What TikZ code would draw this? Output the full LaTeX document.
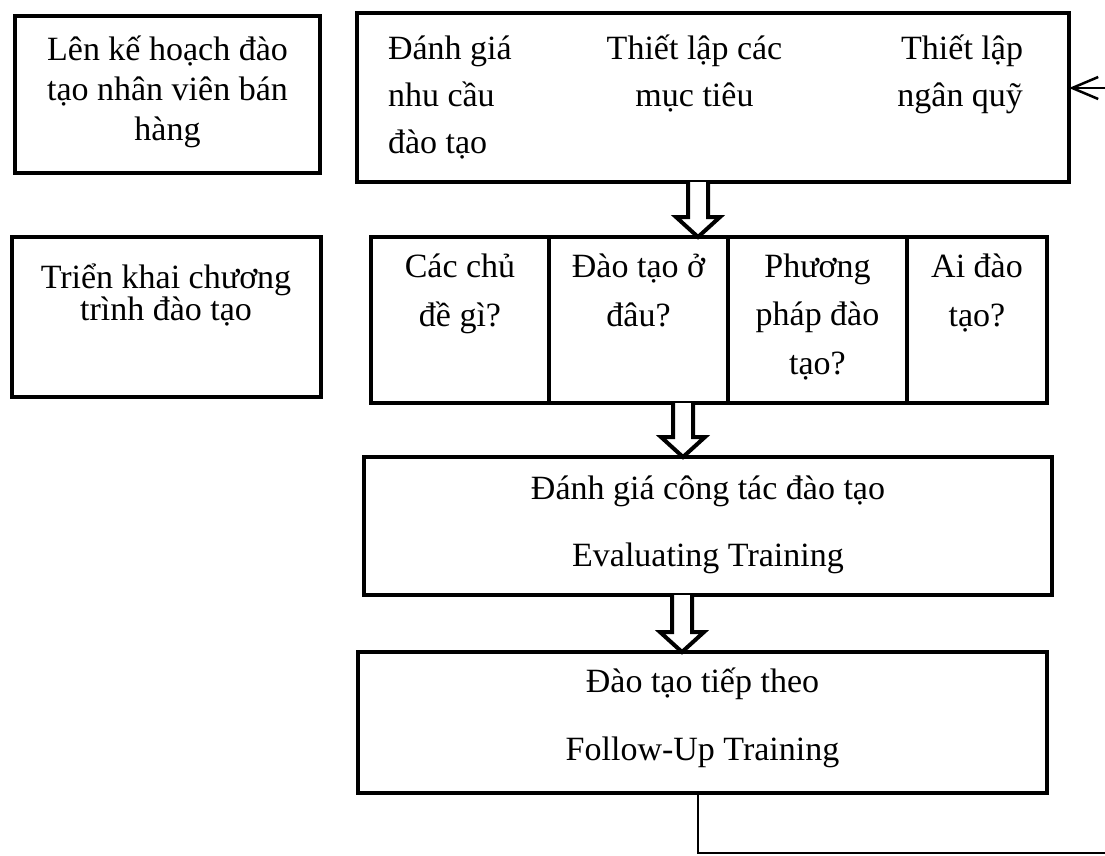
\documentclass[tikz,border=0pt]{standalone}
\usepackage{fontspec}
\setmainfont{Liberation Serif}
\usetikzlibrary{arrows.meta,calc}

\tikzset{
  box/.style={draw, line width=4.2pt, fill=white, inner sep=0pt, outer sep=0pt},
  % multi-line labels: the base anchor sits on the last line's baseline
  txt/.style={inner sep=0pt, outer sep=0pt, align=center, anchor=base,
              font=\fontsize{34}{#1}\selectfont},
  harrow/.style={draw, line width=4pt, fill=white, line join=miter, miter limit=10},
  thinline/.style={draw, line width=2.5pt},
}

% one hollow down-arrow: #1 source node, #2 target node, #3 x-coordinate name
\newcommand\downarrowhollow[3]{%
  \draw[harrow]
    ($(#1.south -| #3)+(-10,0)$) --
    ($(#2.north -| #3)+(-10,-20)$) --
    ($(#2.north -| #3)+(-22,-20)$) --
    (#2.north -| #3) --
    ($(#2.north -| #3)+(22,-20)$) --
    ($(#2.north -| #3)+(10,-20)$) --
    ($(#1.south -| #3)+(10,0)$);}

\begin{document}
\begin{tikzpicture}[x=1pt,y=-1pt]
  \fill[white] (0,0) rectangle (1105,855);
  \useasboundingbox (0,0) rectangle (1105,855);

  % left column
  \node[box, minimum width=305pt, minimum height=157pt] (plan) at (167.5,94.5) {};
  \node[txt=40] (plantext) at (167.5,140) {Lên kế hoạch đào\\tạo nhân viên bán\\hàng};

  \node[box, minimum width=309pt, minimum height=160pt] (impl) at (166.5,317) {};
  \node[txt=32] (impltext) at (166,320) {Triển khai chương\\trình đào tạo};

  % planning steps
  \node[box, minimum width=712pt, minimum height=169pt] (steps) at (713,97.5) {};
  \node[txt=47, align=left, anchor=base west] (needs) at (388,153) {Đánh giá\\nhu cầu\\đào tạo};
  \node[txt=47] (goals) at (694.5,106) {Thiết lập các\\mục tiêu};
  \node[txt=47, align=right, anchor=base east] (budget) at (1023,106) {Thiết lập\\ngân quỹ};

  % implementation questions
  \node[box, minimum width=178pt, minimum height=166pt] (what) at (460,320) {};
  \node[box, minimum width=179pt, minimum height=166pt] (where) at (638.5,320) {};
  \node[box, minimum width=179pt, minimum height=166pt] (how) at (817.5,320) {};
  \node[box, minimum width=140pt, minimum height=166pt] (who) at (977,320) {};
  \node[txt=48.5] (whattext) at (460,326) {Các chủ\\đề gì?};
  \node[txt=48.5] (wheretext) at (638.5,326) {Đào tạo ở\\đâu?};
  \node[txt=48.5] (howtext) at (817.5,374) {Phương\\pháp đào\\tạo?};
  \node[txt=48.5] (whotext) at (977,326) {Ai đào\\tạo?};

  % evaluation and follow-up
  \node[box, minimum width=688pt, minimum height=138pt] (eval) at (708,526) {};
  \node[txt=67] (evaltext) at (708,566) {Đánh giá công tác đào tạo\\Evaluating Training};

  \node[box, minimum width=689pt, minimum height=141pt] (follow) at (702.5,722.5) {};
  \node[txt=68] (followtext) at (702.5,760) {Đào tạo tiếp theo\\Follow-Up Training};

  % hollow arrows between stages
  \coordinate (xa) at (698,0);
  \coordinate (xb) at (683,0);
  \coordinate (xc) at (682,0);
  \downarrowhollow{steps}{where}{xa}
  \downarrowhollow{where}{eval}{xb}
  \downarrowhollow{eval}{follow}{xc}

  % feedback loop
  \coordinate (loopx) at (698,0);
  \coordinate (loopout) at (1105,853);
  \coordinate (loopin) at (1105,88);
  \draw[thinline] (follow.south -| loopx) |- (loopout);
  \draw[thinline, -{Straight Barb[length=26pt,width=22pt,line width=2.5pt]}]
    (loopin) -- (loopin -| steps.east);
\end{tikzpicture}
\end{document}
